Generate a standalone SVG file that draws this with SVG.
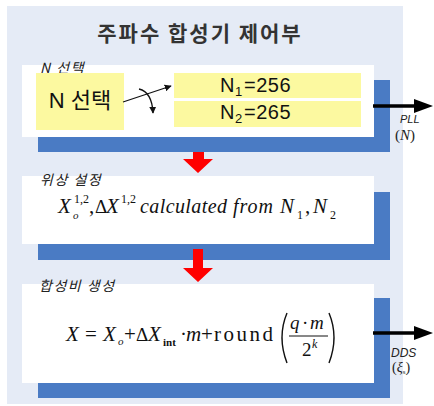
<svg xmlns="http://www.w3.org/2000/svg" width="434" height="406" viewBox="0 0 434 406">
<style>
.panel{fill:#e5ebf6}
.shadow{fill:#4a7bc4}
.card{fill:#ffffff}
.yel{fill:#fcf9a0}
.red{fill:#ff0000}
.lbl{font-family:"Noto Sans CJK KR","Noto Sans",sans-serif;font-style:italic;font-size:14px;fill:#222;letter-spacing:1.5px}
.sans{font-family:"Liberation Sans","Noto Sans CJK KR",sans-serif;fill:#111}
.math{font-family:"Liberation Serif",serif;fill:#111}
.it{font-style:italic}
.thin{stroke:#111;stroke-width:1.3;fill:none}
.thick{stroke:#000;stroke-width:3.5;fill:none}
</style>
<defs>
<marker id="ah" viewBox="0 0 10 10" refX="9" refY="5" markerWidth="7" markerHeight="7" markerUnits="userSpaceOnUse" orient="auto"><path d="M0,0 L10,5 L0,10 z" fill="#111"/></marker>
</defs>
<rect class="panel" x="7" y="6" width="396" height="398"/>
<text x="200" y="41" text-anchor="middle" font-family="'Noto Sans CJK KR',sans-serif" font-size="21" font-weight="bold" fill="#333" letter-spacing="2">주파수 합성기 제어부</text>

<g id="n-select-block">
<rect class="shadow" x="38" y="80" width="352" height="72"/>
<rect class="card" x="22" y="65" width="352" height="72"/>
<text class="lbl" x="40" y="73">N 선택</text>
</g>
<g id="n-select">
<rect class="yel" x="36" y="73" width="88" height="57"/>
<text class="sans" x="80" y="108" text-anchor="middle" font-size="22" font-family="'Noto Sans CJK KR',sans-serif">N 선택</text>
</g>
<g id="n1">
<rect class="yel" x="174" y="73" width="187" height="25"/>
<text class="sans" x="220" y="92" font-size="20" letter-spacing="0.5">N</text>
<text class="sans" x="235" y="96" font-size="13">1</text>
<text class="sans" x="244" y="92" font-size="20" letter-spacing="0.5">=256</text>
</g>
<g id="n2">
<rect class="yel" x="174" y="101" width="187" height="26"/>
<text class="sans" x="220" y="119" font-size="20" letter-spacing="0.5">N</text>
<text class="sans" x="235" y="123" font-size="13">2</text>
<text class="sans" x="244" y="119" font-size="20" letter-spacing="0.5">=265</text>
</g>

<g id="phase-block">
<rect class="shadow" x="38" y="192" width="352" height="68"/>
<rect class="card" x="22" y="176" width="352" height="68"/>
<text class="lbl" x="40" y="185">위상 설정</text>
<g class="math" font-size="21">
<text x="58" y="213" class="it">X</text>
<text x="73" y="219" class="it" font-size="11">o</text>
<text x="74" y="203" font-size="12">1,2</text>
<text x="89" y="213">,</text>
<text x="95" y="213" font-size="19">Δ</text>
<text x="106" y="213" class="it">X</text>
<text x="121" y="203" font-size="12">1,2</text>
<text x="140" y="213" class="it" font-size="20" textLength="87">calculated</text>
<text x="233" y="213" class="it" font-size="20" textLength="40">from</text>
<text x="280" y="213" class="it">N</text>
<text x="297" y="219" font-size="12">1</text>
<text x="305" y="213">,</text>
<text x="313" y="213" class="it">N</text>
<text x="330" y="219" font-size="12">2</text>
</g>
</g>

<g id="ratio-block">
<rect class="shadow" x="38" y="298" width="352" height="100"/>
<rect class="card" x="22" y="284" width="352" height="99"/>
<text class="lbl" x="39" y="291">합성비 생성</text>
<g class="math" font-size="21">
<text x="66" y="341" class="it">X</text>
<text x="85" y="341">=</text>
<text x="103" y="341" class="it">X</text>
<text x="118" y="345" class="it" font-size="11">o</text>
<text x="124" y="341">+</text>
<text x="136" y="341" font-size="19">Δ</text>
<text x="148" y="341" class="it">X</text>
<text x="163" y="346" font-size="11" font-weight="bold">int</text>
<text x="180" y="341">·</text>
<text x="186" y="341" class="it">m</text>
<text x="201" y="341">+</text>
<text x="214" y="341" textLength="59">round</text>
<path d="M287,313 Q277,337 287,363" stroke="#111" stroke-width="1.4" fill="none"/>
<text x="290" y="329" class="it" font-size="19">q</text>
<text x="302" y="329" font-size="19">·</text>
<text x="310" y="329" class="it" font-size="19">m</text>
<line x1="289" y1="336" x2="328" y2="336" stroke="#111" stroke-width="1"/>
<text x="302" y="356" font-size="19">2</text>
<text x="312" y="348" class="it" font-size="12">k</text>
<path d="M329,313 Q339,337 329,363" stroke="#111" stroke-width="1.4" fill="none"/>
</g>
</g>

<g id="connectors">
<line class="thin" x1="123" y1="102" x2="171" y2="86" marker-end="url(#ah)"/>
<path class="thin" d="M139,89 Q152,92 153,113" marker-end="url(#ah)"/>
<path class="red" d="M193,152 H204 V159 H213 L198,173 L183,159 H193 Z"/>
<path class="red" d="M193,249 H203 V268 H213 L198,282 L183,268 H193 Z"/>
<line class="thick" x1="373" y1="106" x2="416" y2="106"/>
<path d="M414,99 L433,106 L414,113 Z" fill="#000"/>
<line class="thick" x1="373" y1="333" x2="416" y2="333"/>
<path d="M414,326 L433,333 L414,340 Z" fill="#000"/>
</g>

<g id="pll-label">
<text x="400" y="123" font-family="'Liberation Sans',sans-serif" font-style="italic" font-size="11" fill="#222">PLL</text>
<text x="395" y="140" font-family="'Liberation Serif',serif" font-size="15" fill="#222">(<tspan font-style="italic">N</tspan>)</text>
</g>
<g id="dds-label">
<text x="391" y="357" font-family="'Liberation Sans',sans-serif" font-style="italic" font-size="12" fill="#222">DDS</text>
<text x="392" y="372" font-family="'Liberation Serif',serif" font-size="14" fill="#222">(<tspan font-style="italic">ξ</tspan><tspan font-size="7" dy="2">s</tspan><tspan dy="-2">)</tspan></text>
</g>
</svg>
